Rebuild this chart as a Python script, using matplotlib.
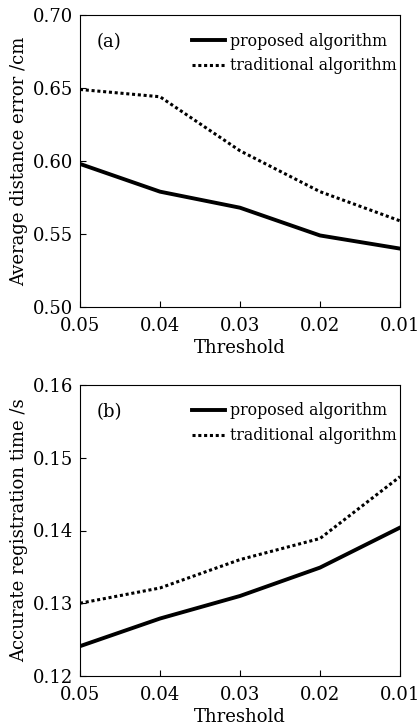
import matplotlib
matplotlib.use("Agg")
import matplotlib.pyplot as plt

plt.rcParams['font.family'] = ['DejaVu Serif']

thresholds = [0.05, 0.04, 0.03, 0.02, 0.01]
tick_labels = ["0.05", "0.04", "0.03", "0.02", "0.01"]

err_proposed = [0.598, 0.579, 0.568, 0.549, 0.540]
err_traditional = [0.649, 0.644, 0.607, 0.579, 0.559]

time_proposed = [0.1241, 0.1279, 0.1310, 0.1349, 0.1404]
time_traditional = [0.1300, 0.1321, 0.1360, 0.1389, 0.1474]

fig = plt.figure(figsize=(4.19, 7.25), dpi=100)
W, H = 419, 725

def make_ax(l, t, r, b):
    return fig.add_axes([l / W, 1 - b / H, (r - l) / W, (b - t) / H])

ax1 = make_ax(80, 15, 400, 307)
ax2 = make_ax(80, 385, 400, 676)

def style(ax, ylim, yticks, ylabel, tag, yfmt):
    ax.set_xlim(0.05, 0.01)
    ax.set_ylim(*ylim)
    ax.set_xticks(thresholds)
    ax.set_xticklabels(tick_labels)
    ax.set_yticks(yticks)
    ax.set_yticklabels([yfmt.format(v) for v in yticks])
    ax.tick_params(direction='in', length=4, width=0.8, labelsize=13,
                   top=False, right=False)
    ax.tick_params(axis='x', pad=7)
    ax.tick_params(axis='y', pad=5)
    ax.set_xlabel("Threshold", fontsize=13, labelpad=3)
    ax.set_ylabel(ylabel, fontsize=13, labelpad=3)
    for s in ax.spines.values():
        s.set_linewidth(0.8)
    ax.text(0.053, 0.908, tag, transform=ax.transAxes, fontsize=13, va='center', ha='left')
    ax.legend(loc='upper left', bbox_to_anchor=(0.35, 0.94), frameon=False,
              fontsize=11.3, handlelength=2.1, handletextpad=0.35,
              borderaxespad=0.0, labelspacing=0.5, borderpad=0.0)

ax1.plot(thresholds, err_proposed, color='black', lw=2.8, ls='-', label='proposed algorithm')
ax1.plot(thresholds, err_traditional, color='black', lw=2.2, ls=(0, (1, 0.9)), label='traditional algorithm')
style(ax1, (0.50, 0.70), [0.50, 0.55, 0.60, 0.65, 0.70], "Average distance error /cm", "(a)", "{:.2f}")

ax2.plot(thresholds, time_proposed, color='black', lw=2.8, ls='-', label='proposed algorithm')
ax2.plot(thresholds, time_traditional, color='black', lw=2.2, ls=(0, (1, 0.9)), label='traditional algorithm')
style(ax2, (0.12, 0.16), [0.12, 0.13, 0.14, 0.15, 0.16], "Accurate registration time /s", "(b)", "{:.2f}")

fig.savefig("out.png", dpi=100)
